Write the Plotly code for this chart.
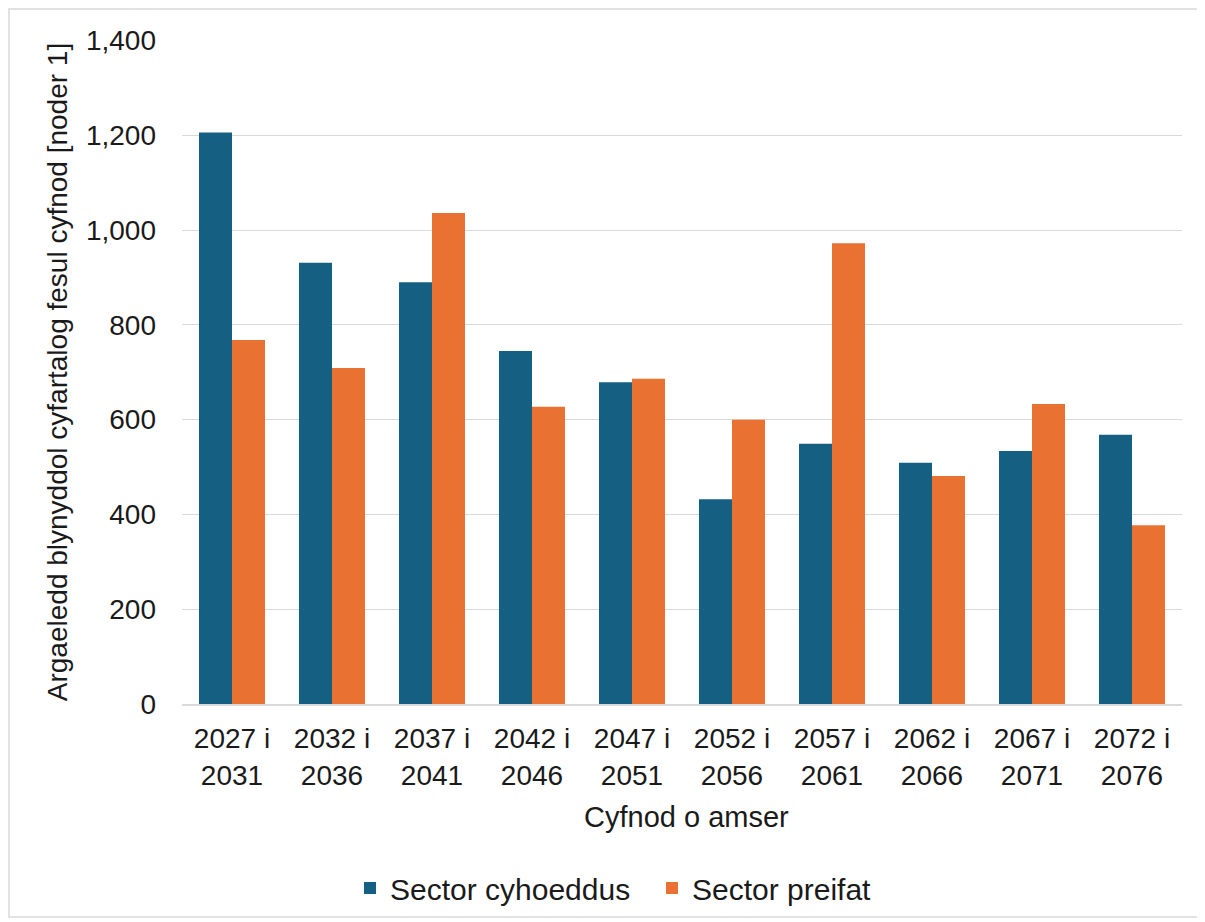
import plotly.graph_objects as go

categories = ["2027 i<br>2031", "2032 i<br>2036", "2037 i<br>2041", "2042 i<br>2046", "2047 i<br>2051",
              "2052 i<br>2056", "2057 i<br>2061", "2062 i<br>2066", "2067 i<br>2071", "2072 i<br>2076"]
public_sector = [1206, 931, 890, 745, 679, 432, 549, 509, 534, 568]
private_sector = [768, 709, 1036, 627, 686, 600, 972, 481, 633, 377]
y_ticks = [0, 200, 400, 600, 800, 1000, 1200, 1400]

# page body has an 8px margin; figure coordinates = screen - 8
W, H = 1192, 910
L, T = 174, 32
PW, PH = 1000, 664
R = W - L - PW
B = H - T - PH

font = "Liberation Sans, Arial, sans-serif"
txt = "#1a1a1a"

fig = go.Figure()
fig.add_trace(go.Bar(x=categories, y=public_sector, name="Sector cyhoeddus",
                     marker=dict(color="#156082", line=dict(width=0))))
fig.add_trace(go.Bar(x=categories, y=private_sector, name="Sector preifat",
                     marker=dict(color="#E97132", line=dict(width=0))))

def px_x(p):
    return (p - L) / PW

def px_y(p):
    return (T + PH - p) / PH

fig.update_layout(
    width=W, height=H,
    margin=dict(l=L, r=R, t=T, b=B, autoexpand=False),
    paper_bgcolor="white", plot_bgcolor="white",
    barmode="group", bargap=0.34, bargroupgap=0,
    font=dict(family=font, size=29, color=txt),
    showlegend=True,
    legend=dict(orientation="h", x=px_x(342), xanchor="left", xref="paper",
                y=px_y(880), yanchor="middle", font=dict(size=30, color=txt),
                entrywidth=257, entrywidthmode="pixels", bgcolor="rgba(0,0,0,0)",
                traceorder="normal", itemclick=False),
    xaxis=dict(
        type="category", showgrid=False, showline=True, linecolor="#d9d9d9", linewidth=1.5,
        ticks="", tickfont=dict(size=28, color=txt), ticklabelstandoff=9,
        automargin=False, fixedrange=True,
    ),
    yaxis=dict(
        range=[0, 1401], tickvals=y_ticks, tickformat=",d",
        showgrid=True, gridcolor="#d9d9d9", gridwidth=1.2, zeroline=False,
        showline=False, ticks="", ticklabelstandoff=25,
        tickfont=dict(size=28, color=txt),
        title=dict(text="Argaeledd blynyddol cyfartalog fesul cyfnod [noder 1]",
                   font=dict(size=28, color=txt), standoff=10),
        automargin=False, fixedrange=True,
    ),
    annotations=[dict(text="Cyfnod o amser", xref="paper", yref="paper",
                      x=px_x(678), y=px_y(809), xanchor="center", yanchor="middle",
                      showarrow=False, font=dict(size=29, color=txt))],
    shapes=[dict(type="rect", xref="paper", yref="paper",
                 x0=px_x(1), x1=px_x(W - 1), y0=px_y(H - 1), y1=px_y(1),
                 line=dict(color="#d9d9d9", width=1.5), fillcolor="rgba(0,0,0,0)", layer="below")],
)

fig.write_html("out.html")
